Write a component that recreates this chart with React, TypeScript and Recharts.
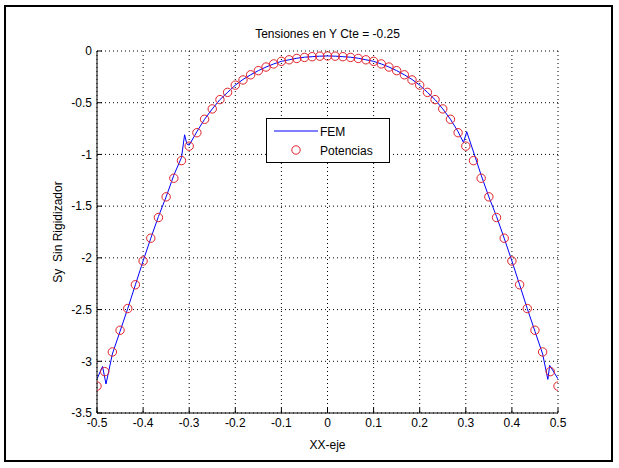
import React from 'react'
import {
  ComposedChart,
  Line,
  Scatter,
  XAxis,
  YAxis,
  CartesianGrid,
  Legend,
} from 'recharts'

const TITLE = 'Tensiones en Y Cte = -0.25'
const X_LABEL = 'XX-eje'
const Y_LABEL = 'Sy  Sin Rigidizador'

const X_TICKS = [-0.5, -0.4, -0.3, -0.2, -0.1, 0, 0.1, 0.2, 0.3, 0.4, 0.5]
const Y_TICKS = [0, -0.5, -1, -1.5, -2, -2.5, -3, -3.5]

// Potencias: circles
const POT_X = [
  -0.5, -0.4833, -0.4667, -0.45, -0.4333, -0.4167, -0.4, -0.3833, -0.3667, -0.35,
  -0.3333, -0.3167, -0.3, -0.2833, -0.2667, -0.25, -0.2333, -0.2167, -0.2, -0.1833,
  -0.1667, -0.15, -0.1333, -0.1167, -0.1, -0.0833, -0.0667, -0.05, -0.0333, -0.0167,
  0,
  0.0167, 0.0333, 0.05, 0.0667, 0.0833, 0.1, 0.1167, 0.1333, 0.15, 0.1667,
  0.1833, 0.2, 0.2167, 0.2333, 0.25, 0.2667, 0.2833, 0.3, 0.3167, 0.3333,
  0.35, 0.3667, 0.3833, 0.4, 0.4167, 0.4333, 0.45, 0.4667, 0.4833, 0.5,
]
const POT_Y = [
  -3.24, -3.1, -2.91, -2.7, -2.49, -2.26, -2.03, -1.81, -1.61, -1.41,
  -1.23, -1.06, -0.92, -0.79, -0.66, -0.56, -0.47, -0.4, -0.33, -0.28,
  -0.23, -0.19, -0.155, -0.125, -0.1, -0.085, -0.072, -0.062, -0.055, -0.05,
  -0.048,
  -0.05, -0.055, -0.062, -0.072, -0.085, -0.1, -0.125, -0.155, -0.19, -0.23,
  -0.28, -0.33, -0.4, -0.47, -0.56, -0.66, -0.79, -0.92, -1.06, -1.23,
  -1.41, -1.61, -1.81, -2.03, -2.26, -2.49, -2.7, -2.91, -3.1, -3.24,
]

// FEM: blue line
const FEM_X = [
  -0.5, -0.488, -0.4805, -0.4667, -0.45, -0.4333, -0.4167, -0.4, -0.3833, -0.3667,
  -0.35, -0.3333, -0.3167, -0.31, -0.305, -0.3, -0.2833, -0.2667, -0.25, -0.2333,
  -0.2167, -0.2, -0.1833, -0.1667, -0.15, -0.1333, -0.1167, -0.1, -0.0833, -0.0667,
  -0.05, -0.0333, -0.0167, 0,
  0.0167, 0.0333, 0.05, 0.0667, 0.0833, 0.1, 0.1167, 0.1333, 0.15, 0.1667,
  0.1833, 0.2, 0.2167, 0.2333, 0.25, 0.2667, 0.2833, 0.295, 0.302, 0.32,
  0.3333, 0.35, 0.3667, 0.3833, 0.4, 0.4167, 0.4333, 0.45, 0.4667, 0.478,
  0.482, 0.5,
]
const FEM_Y = [
  -3.17, -3.05, -3.22, -2.93, -2.71, -2.49, -2.26, -2.03, -1.81, -1.6,
  -1.41, -1.2, -1.03, -0.81, -0.9, -0.91, -0.78, -0.66, -0.56, -0.47,
  -0.4, -0.33, -0.275, -0.23, -0.19, -0.155, -0.125, -0.1, -0.085, -0.07,
  -0.06, -0.055, -0.05, -0.048,
  -0.05, -0.055, -0.06, -0.07, -0.085, -0.1, -0.125, -0.155, -0.19, -0.23,
  -0.275, -0.33, -0.4, -0.47, -0.56, -0.66, -0.78, -0.885, -0.78, -1.02,
  -1.2, -1.41, -1.6, -1.81, -2.03, -2.26, -2.49, -2.71, -2.93, -3.175,
  -3.04, -3.17,
]

const potData = POT_X.map((x, i) => ({ x, y: POT_Y[i] }))
const femData = FEM_X.map((x, i) => ({ x, y: FEM_Y[i] }))

const FONT = '"Liberation Sans", Arial, sans-serif'
const RED = '#e0202a'
const BLUE = '#0000ff'

const Circle = (props: any) => {
  const { cx, cy } = props
  return <circle cx={cx} cy={cy} r={4.2} fill="none" stroke={RED} strokeWidth={1} />
}

const LegendBox = () => (
  <div
    style={{
      width: 122,
      height: 43,
      border: '1px solid #000',
      background: '#fff',
      position: 'relative',
      fontFamily: FONT,
      fontSize: 12,
      color: '#000',
    }}
  >
    <svg width={122} height={43} style={{ position: 'absolute', left: 0, top: 0 }}>
      <line x1={7} x2={51} y1={12} y2={12} stroke={BLUE} strokeWidth={1} />
      <circle cx={29} cy={31} r={4.2} fill="none" stroke={RED} strokeWidth={1} />
      <text x={53} y={16.5} fontSize={12} fontFamily={FONT} fill="#000">FEM</text>
      <text x={53} y={35.5} fontSize={12} fontFamily={FONT} fill="#000">Potencias</text>
    </svg>
  </div>
)

export default function App() {
  const tickStyle = { fill: '#000', fontSize: 12, fontFamily: FONT }
  return (
    <div style={{ position: 'absolute', left: 0, top: 0, width: 619, height: 468, background: '#fff', fontFamily: FONT }}>
      <div
        style={{
          position: 'absolute',
          left: 4,
          top: 5,
          width: 605,
          height: 453,
          border: '2px solid #000',
        }}
      />
      <div
        style={{
          position: 'absolute',
          left: 97,
          width: 461,
          top: 27,
          textAlign: 'center',
          fontSize: 12,
          color: '#000',
        }}
      >
        {TITLE}
      </div>
      <div
        style={{
          position: 'absolute',
          left: 97,
          width: 461,
          top: 438,
          textAlign: 'center',
          fontSize: 12,
          color: '#000',
        }}
      >
        {X_LABEL}
      </div>
      <div
        style={{
          position: 'absolute',
          left: 58,
          top: 232,
          fontSize: 12,
          color: '#000',
          whiteSpace: 'pre',
          transform: 'translate(-50%, -50%) rotate(-90deg)',
        }}
      >
        {Y_LABEL}
      </div>
      <div style={{ position: 'absolute', left: 0, top: 0 }}>
        <ComposedChart width={619} height={468} margin={{ top: 51, right: 61, bottom: 0, left: 0 }}>
          <CartesianGrid stroke="#000" strokeDasharray="1 3" strokeWidth={1} />
          <XAxis
            dataKey="x"
            type="number"
            domain={[-0.5, 0.5]}
            ticks={X_TICKS}
            allowDataOverflow
            height={55}
            tickSize={-5}
            tickMargin={10}
            tick={tickStyle}
            axisLine={{ stroke: '#000' }}
            tickLine={{ stroke: '#000' }}
            interval={0}
          />
          <XAxis
            xAxisId="top"
            orientation="top"
            dataKey="x"
            type="number"
            domain={[-0.5, 0.5]}
            ticks={X_TICKS}
            allowDataOverflow
            height={0}
            tickSize={-5}
            tickFormatter={() => ''}
            axisLine={{ stroke: '#000' }}
            tickLine={{ stroke: '#000' }}
            interval={0}
          />
          <YAxis
            type="number"
            domain={[-3.5, 0]}
            ticks={Y_TICKS}
            allowDataOverflow
            width={97}
            tickSize={-5}
            tickMargin={10}
            tick={tickStyle}
            axisLine={{ stroke: '#000' }}
            tickLine={{ stroke: '#000' }}
            interval={0}
          />
          <YAxis
            yAxisId="right"
            orientation="right"
            type="number"
            domain={[-3.5, 0]}
            ticks={Y_TICKS}
            allowDataOverflow
            width={0}
            tickSize={-5}
            tickFormatter={() => ''}
            axisLine={{ stroke: '#000' }}
            tickLine={{ stroke: '#000' }}
            interval={0}
          />
          <Line
            data={femData}
            dataKey="y"
            type="linear"
            stroke={BLUE}
            strokeWidth={1}
            dot={false}
            isAnimationActive={false}
            name="FEM"
          />
          <Scatter
            data={potData}
            dataKey="y"
            shape={Circle}
            isAnimationActive={false}
            name="Potencias"
          />
          <Legend
            layout="horizontal"
            verticalAlign="middle"
            align="center"
            content={() => <LegendBox />}
            wrapperStyle={{ position: 'absolute', left: 266, top: 118, width: 124, height: 45 }}
          />
        </ComposedChart>
      </div>
    </div>
  )
}
